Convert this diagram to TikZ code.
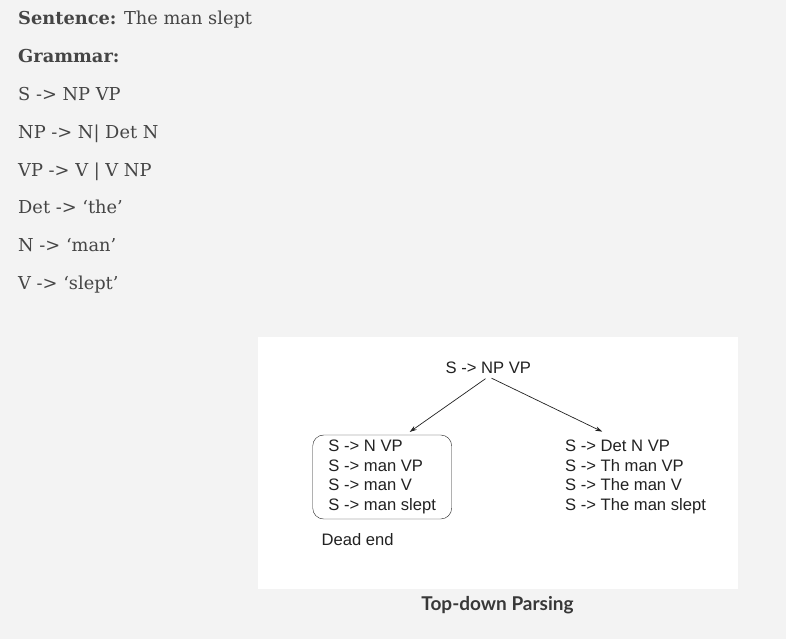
\documentclass[tikz,border=0pt]{standalone}
\usepackage{fontspec}
\setmainfont{DejaVu Serif}
\newfontfamily\diagfont{Liberation Sans}
\newfontfamily\capfont{Lato}
\usetikzlibrary{positioning,arrows.meta}
\definecolor{pagegray}{HTML}{F3F3F3}
\definecolor{textgray}{HTML}{454545}
\definecolor{inkgray}{HTML}{222222}

\begin{document}
\begin{tikzpicture}[x=1pt,y=-1pt,
  gramline/.style={anchor=base west, inner sep=0pt, text=textgray, font=\fontsize{17.8}{22}\selectfont},
  nextline/.style={below=37.8pt of #1.base west, anchor=base west},
  ruletext/.style={inner xsep=15pt, align=left, text=inkgray, font=\diagfont\fontsize{16.6}{19.7}\selectfont},
  roundbox/.style={ruletext, draw=inkgray, rounded corners=11pt, minimum width=139pt, minimum height=84pt},
  treearrow/.style={-{Stealth[length=7pt,width=4.5pt]}, draw=inkgray, line width=0.7pt}]

%Background
\fill[pagegray] (0,0) rectangle (786,639);
\fill[white] (257.5,337) rectangle (737.5,588.5);

%Sentence and grammar
\node[gramline] (sentence) at (18,24.8) {\textbf{Sentence:} The man slept};
\node[gramline, nextline=sentence] (grammar) {\textbf{Grammar:}};
\node[gramline, nextline=grammar] (rule1) {S -> NP VP};
\node[gramline, nextline=rule1] (rule2) {NP -> N| Det N};
\node[gramline, nextline=rule2] (rule3) {VP -> V | V NP};
\node[gramline, nextline=rule3] (rule4) {Det -> ‘the’};
\node[gramline, nextline=rule4] (rule5) {N -> ‘man’};
\node[gramline, nextline=rule5] (rule6) {V -> ‘slept’};

%Parse tree
\node[ruletext, anchor=base, inner sep=3pt] (start) at (488.4,373.3) {S -> NP VP};
\node[roundbox] (leftrules) at (382.2,477) {S -> N VP\\S -> man VP\\S -> man V\\S -> man slept};
\node[ruletext, anchor=west] (rightrules) at (550,477) {S -> Det N VP\\S -> Th man VP\\S -> The man V\\S -> The man slept};
\node[ruletext, inner sep=0pt, below=26pt of leftrules.south west, anchor=base west, xshift=9pt] (deadend) {Dead end};

%Arrows
\draw[treearrow, shorten <=3.5pt, shorten >=5pt] (start.south) -- (leftrules.61);
\draw[treearrow, shorten <=3.5pt, shorten >=11pt] (start.south) -- (rightrules.120);

%Caption
\node[anchor=base, text=inkgray!90, font=\capfont\bfseries\fontsize{19}{23}\selectfont] (caption) at (497.5,610) {Top-down Parsing};

\end{tikzpicture}
\end{document}
